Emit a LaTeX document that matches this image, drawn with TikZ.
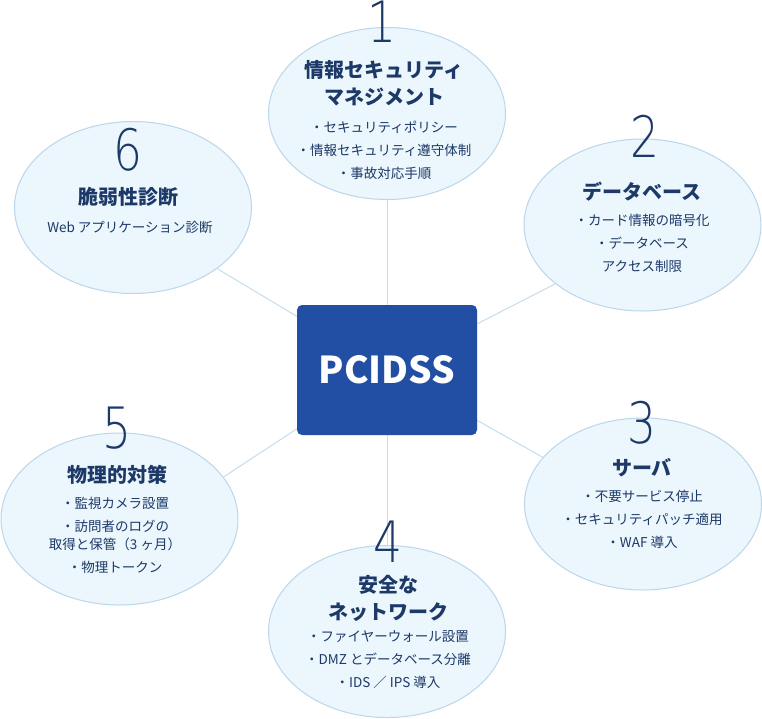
\documentclass[tikz,border=0pt]{standalone}
\usepackage{fontspec}
\setmainfont{Noto Sans CJK JP}
\newfontfamily\numfont{DejaVu Sans ExtraLight}
\usetikzlibrary{shapes.geometric,backgrounds}
\definecolor{bubblefill}{HTML}{EBF6FD}
\definecolor{bubbleline}{HTML}{BCD6EA}
\definecolor{connline}{HTML}{C6DDEE}
\definecolor{navy}{HTML}{1D3968}
\definecolor{boxblue}{HTML}{224EA3}
\begin{document}
\begin{tikzpicture}[x=1pt,y=-1pt,
 bubble/.style={ellipse, fill=bubblefill, draw=bubbleline, line width=1pt, minimum width=237pt, minimum height=172pt, inner sep=0pt},
 conn/.style={draw=connline, line width=1pt},
 numlabel/.style={font=\numfont\fontsize{57}{57}\selectfont, text=navy, inner sep=0pt},
 titlelabel/.style={font=\bfseries\fontsize{20}{27}\selectfont, text=navy, align=center, inner sep=0pt},
 itemlabel/.style={font=\fontsize{13.5}{23}\selectfont, text=navy, align=center, inner sep=0pt},
]
\useasboundingbox (0,0) rectangle (762,718);
% bubbles
\node[bubble] (e1) at (387,113.5) {};
\node[bubble] (e2) at (642.5,225) {};
\node[bubble] (e3) at (643,504) {};
\node[bubble] (e4) at (387,631.5) {};
\node[bubble] (e5) at (119.5,519) {};
\node[bubble] (e6) at (133,207.5) {};
% centre box
\node[fill=boxblue, rounded corners=5pt, minimum width=180pt, minimum height=130pt, inner sep=0pt, text=white, font=\bfseries\fontsize{37}{37}\selectfont] (box) at (387,370) {PCIDSS};
% connectors
\begin{scope}[on background layer]
\fill[white] (0,0) rectangle (762,718);
\draw[conn] (e1) -- (box);
\draw[conn] (e4) -- (box);
\draw[conn] (e2.-146) -- (box);
\draw[conn] (e3.155.5) -- (box);
\draw[conn] (e5.22.3) -- (box);
\draw[conn] (e6.-36.6) -- (box);
\end{scope}
% 1
\node[numlabel] (n1) at (382,22) {\scalebox{0.8}[1]{1}};
\node[titlelabel] (t1) at (384,83.5) {情報セキュリティ\\マネジメント};
\node[itemlabel] (i1) at (384,150) {・セキュリティポリシー\\・情報セキュリティ遵守体制\\・事故対応手順};
% 2
\node[numlabel] (n2) at (645,136.5) {\scalebox{0.8}[1]{2}};
\node[titlelabel] (t2) at (642,192) {データベース};
\node[itemlabel] (i2) at (642,243) {・カード情報の暗号化\\・データベース\\アクセス制限};
% 3
\node[numlabel] (n3) at (642,422.5) {\scalebox{0.8}[1]{3}};
\node[titlelabel] (t3) at (642,468) {サーバ};
\node[itemlabel] (i3) at (642,519) {・不要サービス停止\\・セキュリティパッチ適用\\・WAF 導入};
% 4
\node[numlabel] (n4) at (388,541.5) {\scalebox{0.8}[1]{4}};
\node[titlelabel] (t4) at (388,598.5) {安全な\\ネットワーク};
\node[itemlabel] (i4) at (388,660) {・ファイヤーウォール設置\\・DMZ とデータベース分離\\・IDS ／ IPS 導入};
% 5
\node[numlabel] (n5) at (117,428.5) {\scalebox{0.8}[1]{5}};
\node[titlelabel] (t5) at (117,475) {物理的対策};
\node[itemlabel] (i5) at (115,535.5) {・監視カメラ設置\\・訪問者のログの\\[-5pt]取得と保管（3 ヶ月）\\・物理トークン};
% 6
\node[numlabel] (n6) at (128,150) {\scalebox{0.8}[1]{6}};
\node[titlelabel] (t6) at (128,197) {脆弱性診断};
\node[itemlabel] (i6) at (130,227) {Web アプリケーション診断};
\end{tikzpicture}
\end{document}
